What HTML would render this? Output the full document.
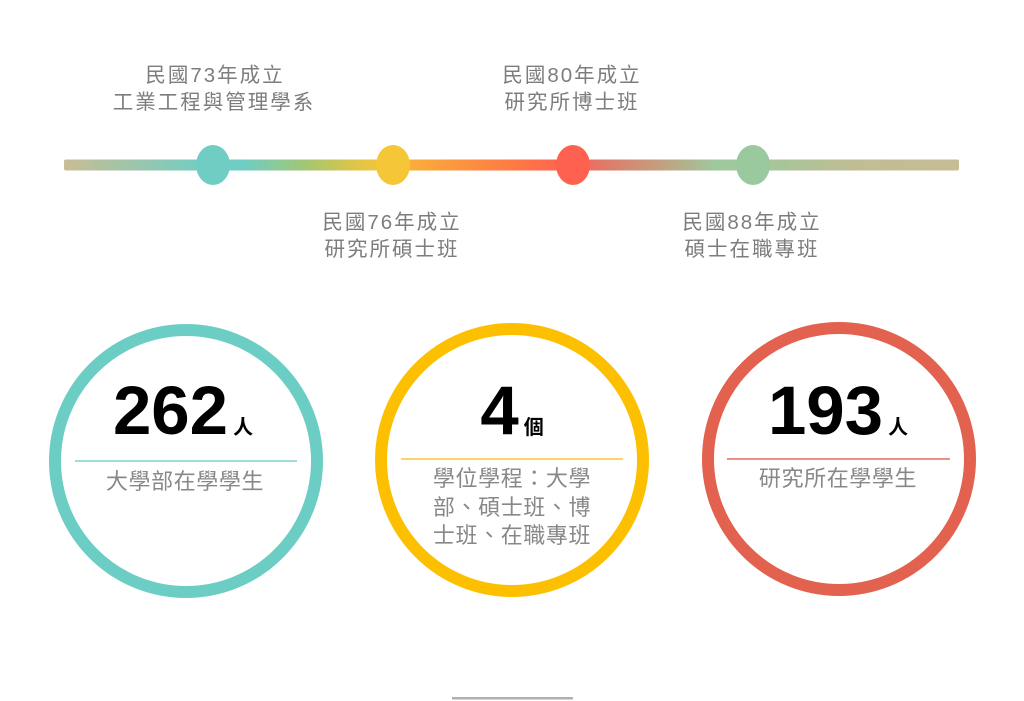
<!DOCTYPE html>
<html>
<head>
<meta charset="utf-8">
<style>
html,body{margin:0;padding:0;background:#fff;}
body{width:1024px;height:701px;overflow:hidden;position:relative;}
svg{position:absolute;left:0;top:0;}
.lbl{font-family:"Liberation Sans","Noto Sans CJK TC",sans-serif;font-size:20.5px;fill:#7d7d7d;letter-spacing:2px;}
.ctx{font-family:"Liberation Sans","Noto Sans CJK TC",sans-serif;font-size:22px;fill:#888888;letter-spacing:0.6px;}
.num{font-family:"Liberation Sans","Noto Sans CJK TC",sans-serif;font-weight:bold;fill:#000;}
</style>
</head>
<body>
<svg width="1024" height="701" viewBox="0 0 1024 701" xmlns="http://www.w3.org/2000/svg">
  <defs>
    <linearGradient id="tl" x1="64" y1="0" x2="959" y2="0" gradientUnits="userSpaceOnUse">
      <stop offset="0" stop-color="#c8bd94"/>
      <stop offset="0.16" stop-color="#6fcdc4"/>
      <stop offset="0.20" stop-color="#6fcdc4"/>
      <stop offset="0.27" stop-color="#a2c673"/>
      <stop offset="0.33" stop-color="#e3c645"/>
      <stop offset="0.37" stop-color="#f5c63a"/>
      <stop offset="0.385" stop-color="#f9af3a"/>
      <stop offset="0.50" stop-color="#ff7a45"/>
      <stop offset="0.565" stop-color="#ff6150"/>
      <stop offset="0.60" stop-color="#e07868"/>
      <stop offset="0.66" stop-color="#c59c7e"/>
      <stop offset="0.73" stop-color="#9ec99e"/>
      <stop offset="0.80" stop-color="#a8c59a"/>
      <stop offset="0.88" stop-color="#c0bd95"/>
      <stop offset="1" stop-color="#c6bc95"/>
    </linearGradient>
  </defs>

  <!-- timeline bar -->
  <rect x="64" y="159.5" width="895" height="11" rx="2" fill="url(#tl)"/>
  <ellipse cx="213" cy="165" rx="17" ry="20" fill="#6fcdc4"/>
  <ellipse cx="393" cy="165" rx="17" ry="20" fill="#f5c637"/>
  <ellipse cx="573" cy="165" rx="17" ry="20" fill="#ff6150"/>
  <ellipse cx="753" cy="165" rx="17" ry="20" fill="#9ac99d"/>

  <!-- timeline labels -->
  <text class="lbl" x="215" y="82" text-anchor="middle">民國73年成立</text>
  <text class="lbl" x="214" y="109" text-anchor="middle">工業工程與管理學系</text>

  <text class="lbl" x="392" y="229" text-anchor="middle">民國76年成立</text>
  <text class="lbl" x="392" y="256" text-anchor="middle">研究所碩士班</text>

  <text class="lbl" x="572" y="82" text-anchor="middle">民國80年成立</text>
  <text class="lbl" x="572" y="109" text-anchor="middle">研究所博士班</text>

  <text class="lbl" x="752" y="229" text-anchor="middle">民國88年成立</text>
  <text class="lbl" x="752" y="256" text-anchor="middle">碩士在職專班</text>

  <!-- circle 1 -->
  <circle cx="186" cy="461" r="131" fill="none" stroke="#6ccdc5" stroke-width="12"/>
  <text x="183" y="434" text-anchor="middle" class="num"><tspan font-size="69">262</tspan><tspan font-size="20" dx="5">人</tspan></text>
  <line x1="75" y1="461" x2="297" y2="461" stroke="#7fd3cc" stroke-width="1.5"/>
  <text class="ctx" x="185" y="489" text-anchor="middle">大學部在學學生</text>

  <!-- circle 2 -->
  <circle cx="512" cy="460" r="131" fill="none" stroke="#fcc000" stroke-width="12"/>
  <text x="512" y="434" text-anchor="middle" class="num"><tspan font-size="69">4</tspan><tspan font-size="20" dx="5">個</tspan></text>
  <line x1="401" y1="459" x2="623" y2="459" stroke="#f5c63a" stroke-width="1.5"/>
  <text class="ctx" x="512" y="486" text-anchor="middle">學位學程：大學</text>
  <text class="ctx" x="512" y="515" text-anchor="middle">部、碩士班、博</text>
  <text class="ctx" x="512" y="543" text-anchor="middle">士班、在職專班</text>

  <!-- circle 3 -->
  <circle cx="839" cy="459" r="131" fill="none" stroke="#e3614f" stroke-width="12"/>
  <text x="838" y="434" text-anchor="middle" class="num"><tspan font-size="69">193</tspan><tspan font-size="20" dx="5">人</tspan></text>
  <line x1="727" y1="459" x2="950" y2="459" stroke="#e86a5a" stroke-width="1.5"/>
  <text class="ctx" x="838" y="486" text-anchor="middle">研究所在學學生</text>

  <!-- bottom bar -->
  <rect x="452" y="697" width="121" height="2.5" fill="#b0b0b0"/>
</svg>
</body>
</html>
